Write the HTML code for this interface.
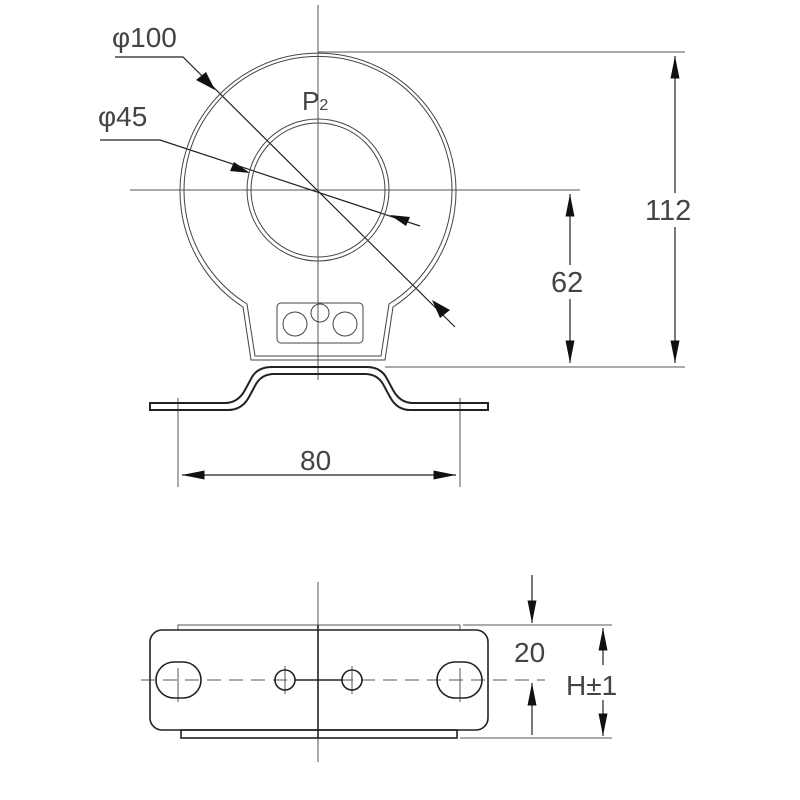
<!DOCTYPE html>
<html><head><style>body{margin:0;background:#fff}svg{display:block}text{font-family:"Liberation Sans",sans-serif;fill:#444}</style></head><body>
<svg width="800" height="800" viewBox="0 0 800 800" xmlns="http://www.w3.org/2000/svg">
<defs><marker id="b" viewBox="0 0 20 8" refX="20" refY="4" markerWidth="26" markerHeight="9" markerUnits="userSpaceOnUse" orient="auto-start-reverse"><path d="M0,0 L20,4 L0,8z" fill="#111"/></marker></defs>
<g fill="none" stroke="#555" stroke-width="1">
<line x1="318" y1="5" x2="318" y2="380"/>
<line x1="130" y1="190" x2="580" y2="190"/>
<line x1="318" y1="52" x2="685" y2="52"/>
<line x1="385" y1="367" x2="685" y2="367"/>
<line x1="178" y1="398" x2="178" y2="487"/>
<line x1="460" y1="398" x2="460" y2="487"/>
</g>
<g fill="none" stroke="#222" stroke-width="1.2">
<line x1="675" y1="56" x2="675" y2="363" marker-start="url(#b)" marker-end="url(#b)"/>
<line x1="570" y1="194" x2="570" y2="363" marker-start="url(#b)" marker-end="url(#b)"/>
<line x1="182" y1="475" x2="456" y2="475" marker-start="url(#b)" marker-end="url(#b)"/>
<polyline points="115,57 183,57 455,327"/>
<polyline points="100,140 160,140 420,226"/>
</g>
<g fill="#111">
<polygon points="215,90 196,80 206,72"/>
<polygon points="432,300 450,310 440,318"/>
<polygon points="250,173 230,171 234,162"/>
<polygon points="390,215 410,217 406,226"/>
</g>
<g fill="none" stroke="#444" stroke-width="1">
<path d="M243,307 A138,138 0 1 1 393,307 L385,360 L251,360 Z"/>
<path d="M247,304 A134,134 0 1 1 389,304 L381,356 L255,356 Z"/>
<circle cx="318" cy="190" r="71"/>
<circle cx="318" cy="190" r="67"/>
<rect x="277" y="303" width="86" height="40" rx="4"/>
<circle cx="295" cy="324" r="12"/><circle cx="345" cy="324" r="12"/>
<circle cx="320" cy="313" r="9"/>
</g>
<path d="M150,403 L225,403 Q238,403 245,390 L252,377 Q258,367 272,367 L367,367 Q380,367 386,377 L393,390 Q400,403 413,403 L488,403 L488,410 L410,410 Q397,410 390,397 L383,384 Q377,374 365,374 L274,374 Q262,374 256,384 L249,397 Q242,410 228,410 L150,410 Z" fill="none" stroke="#222" stroke-width="2"/>
<g fill="#fff"><rect x="644" y="193" width="58" height="34"/><rect x="550" y="265" width="40" height="34"/><rect x="512" y="638" width="40" height="30"/><rect x="564" y="668" width="74" height="32"/><rect x="298" y="445" width="42" height="28"/></g>
<text x="112" y="47" font-size="28">φ100</text>
<text x="98" y="126" font-size="28">φ45</text>
<text x="302" y="110" font-size="26">P<tspan font-size="16">2</tspan></text>
<text x="645" y="220" font-size="29">112</text>
<text x="551" y="292" font-size="29">62</text>
<text x="300" y="470" font-size="28">80</text>
<g fill="none" stroke="#555" stroke-width="1">
<line x1="318" y1="582" x2="318" y2="762"/>
<line x1="141" y1="680" x2="545" y2="680" stroke-dasharray="14,8"/>
<line x1="463" y1="625" x2="612" y2="625"/>
<line x1="460" y1="738" x2="612" y2="738"/>
<rect x="178" y="625" width="282" height="5"/>
<line x1="178" y1="668" x2="178" y2="702"/><line x1="460" y1="668" x2="460" y2="702"/>
<line x1="285" y1="666" x2="285" y2="694"/><line x1="352" y1="666" x2="352" y2="694"/>
</g>
<g fill="none" stroke="#222" stroke-width="1.6">
<rect x="150" y="630" width="338" height="100" rx="12"/>
<rect x="181" y="730" width="276" height="8"/>
<rect x="156" y="662" width="45" height="36" rx="18"/>
<rect x="437" y="662" width="45" height="36" rx="18"/>
<circle cx="285" cy="680" r="10"/><circle cx="352" cy="680" r="10"/>
<line x1="295" y1="680" x2="342" y2="680"/>
<line x1="318" y1="625" x2="318" y2="738"/>
</g>
<g fill="none" stroke="#222" stroke-width="1.2">
<line x1="532" y1="575" x2="532" y2="623" marker-end="url(#b)"/>
<line x1="532" y1="735" x2="532" y2="683" marker-end="url(#b)"/>
<line x1="603" y1="665" x2="603" y2="628" marker-end="url(#b)"/>
<line x1="603" y1="700" x2="603" y2="736" marker-end="url(#b)"/>
</g>
<text x="514" y="662" font-size="28">20</text>
<text x="566" y="695" font-size="28">H±1</text>
</svg>
</body></html>
